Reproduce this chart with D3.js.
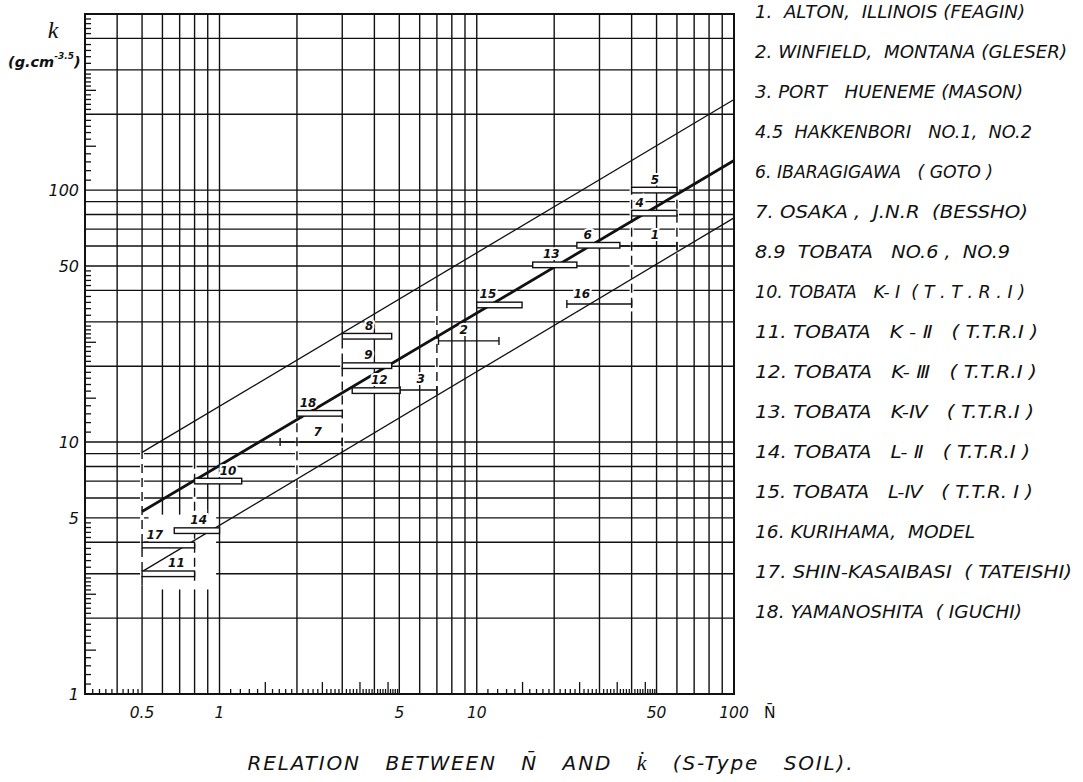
<!DOCTYPE html>
<html><head><meta charset="utf-8">
<script src="https://cdn.jsdelivr.net/npm/d3@7"></script>
<style>body{margin:0;background:#fff}svg{display:block}</style>
</head><body>
<svg id="c" width="1083" height="782"></svg>
<script>
// ---------------- data ----------------
const siteIds   = ["1","2","3","4","5","6","7","8","9","10","11","12","13","14","15","16","17","18"];
const markType  = ["range","range","range","box","box","box","range","box","box","box","box","box","box","box","box","range","box","box"];
const nLow      = [30, 7.1, 5.03, 40, 40, 24.5, 1.72, 3, 3, 0.8, 0.5, 3.28, 16.5, 0.667, 10, 22.4, 0.5, 2];
const nHigh     = [60, 12.2, 7, 60, 60, 36, 3, 4.67, 4.67, 1.22, 0.8, 5.03, 24.5, 1.0, 15, 40, 0.8, 3];
const kValue    = [60, 25.2, 16.1, 81, 100, 60.4, 10, 26.3, 20.1, 7, 3, 16, 50.5, 4.45, 35, 35.3, 3.9, 13];
const labelAtN  = [49.3, 8.9, 6.05, 43, 49.3, 27, 2.41, 3.82, 3.79, 1.08, 0.68, 4.18, 19.5, 0.83, 11.05, 25.6, 0.56, 2.21];

// reference lines (two end points each)
const lineN      = [0.5, 100];
const kUpperLine = [9.1, 229];
const kMainLine  = [5.3, 131];
const kLowerLine = [3.06, 77.6];

// grid and tick values
const gridN = [0.4,0.5,0.6,0.7,0.8,0.9,1,2,3,4,5,6,7,8,9,10,20,30,40,50,60,70,80,90];
const gridK = [2,3,4,5,6,7,8,9,10,20,30,40,50,60,70,80,90,100,200,300,400];
const xTickLabels = [0.5, 1, 5, 10, 50, 100];
const xTickText   = ["0.5", "1", "5", "10", "50", "100"];
const yTickLabels = [1, 5, 10, 50, 100];
const yTickText   = ["1", "5", "10", "50", "100"];

// dashed sections of grid lines (N, from k, to k)
const dashN  = [0.5, 0.8, 2, 3, 7, 40, 60];
const dashK0 = [2.7, 2.7, 6.5, 9.5, 15.5, 33, 56];
const dashK1 = [9.3, 8.5, 13.5, 29, 36, 104, 104];

const legendText = [
  "1.  ALTON,  ILLINOIS (FEAGIN)",
  "2. WINFIELD,  MONTANA (GLESER)",
  "3. PORT   HUENEME (MASON)",
  "4.5  HAKKENBORI   NO.1,  NO.2",
  "6. IBARAGIGAWA   ( GOTO )",
  "7. OSAKA ,  J.N.R  (BESSHO)",
  "8.9  TOBATA   NO.6 ,  NO.9",
  "10. TOBATA   K- I  ( T . T . R . I )",
  "11. TOBATA   K - Ⅱ   ( T.T.R.I )",
  "12. TOBATA   K- Ⅲ   ( T.T.R.I )",
  "13. TOBATA   K-Ⅳ   ( T.T.R.I )",
  "14. TOBATA   L- Ⅱ   ( T.T.R.I )",
  "15. TOBATA   L-Ⅳ   ( T.T.R. I )",
  "16. KURIHAMA,  MODEL",
  "17. SHIN-KASAIBASI  ( TATEISHI)",
  "18. YAMANOSHITA  ( IGUCHI)"
];
const legendRight = [1025, 1067, 1023, 1032, 993, 1028, 1010, 1025, 1038, 1037, 1034, 1030, 1033, 975, 1072, 1022];

// ---------------- drawing ----------------
const svg = d3.select("#c");
const x = d3.scaleLog().domain([0.3, 100]).range([85, 734]);
const y = d3.scaleLog().domain([1, 500]).range([694, 14]);
const ink = "#111";
const italicFont = "'DejaVu Sans', sans-serif";

const plot = svg.append("g");

// grid lines
plot.append("g").selectAll("line").data(gridN).join("line")
  .attr("x1", d => x(d)).attr("x2", d => x(d))
  .attr("y1", y(500)).attr("y2", y(1))
  .attr("stroke", ink).attr("stroke-width", 1.4);
plot.append("g").selectAll("line").data(gridK).join("line")
  .attr("x1", x(0.3)).attr("x2", x(100))
  .attr("y1", d => y(d)).attr("y2", d => y(d))
  .attr("stroke", ink).attr("stroke-width", 1.4);

// cleared region around the small-N bars
plot.append("rect")
  .attr("x", x(0.53)).attr("y", y(5.15))
  .attr("width", x(0.97) - x(0.53)).attr("height", y(2.6) - y(5.15))
  .attr("fill", "#fff");

// dashed grid sections
const dashG = plot.append("g");
dashN.forEach((n, i) => {
  dashG.append("line").attr("x1", x(n)).attr("x2", x(n))
    .attr("y1", y(dashK1[i])).attr("y2", y(dashK0[i]))
    .attr("stroke", "#fff").attr("stroke-width", 4);
  dashG.append("line").attr("x1", x(n)).attr("x2", x(n))
    .attr("y1", y(dashK1[i])).attr("y2", y(dashK0[i]))
    .attr("stroke", ink).attr("stroke-width", 1.4).attr("stroke-dasharray", "9,5");
});

// minor ticks (bottom and left), pointing into the plot
function rangeTicks(a, b, s) { return d3.range(a + s, b - s / 2, s).map(v => +v.toFixed(3)); }
const xShort = [].concat(rangeTicks(0.3, 0.4, 0.02), rangeTicks(0.4, 0.5, 0.02),
  rangeTicks(1, 5, 0.1).filter(v => ![2,3,4,1.5,2.5,3.5,4.5].includes(v)),
  rangeTicks(10, 50, 1).filter(v => ![20,30,40,15,25,35,45].includes(v)));
const xLong = [1.5, 2.5, 3.5, 4.5, 15, 25, 35, 45];
const yShort = [].concat(rangeTicks(1, 3, 0.1).filter(v => ![2,1.5,2.5].includes(v)),
  rangeTicks(3, 5, 0.2).filter(v => v !== 4),
  rangeTicks(10, 30, 1).filter(v => ![20,15,25].includes(v)),
  rangeTicks(30, 50, 2).filter(v => v !== 40),
  rangeTicks(100, 300, 10).filter(v => ![200,150,250].includes(v)),
  rangeTicks(300, 500, 20).filter(v => v !== 400));
const yLong = [1.5, 2.5, 15, 25, 150, 250];

function styleAxis(sel) {
  sel.select(".domain").remove();
  sel.selectAll("line").attr("stroke", ink).attr("stroke-width", 1.3);
  sel.selectAll("text").remove();
}
plot.append("g").attr("transform", `translate(0,${y(1)})`)
  .call(d3.axisBottom(x).tickValues(xShort).tickSize(-5).tickFormat("")).call(styleAxis);
plot.append("g").attr("transform", `translate(0,${y(1)})`)
  .call(d3.axisBottom(x).tickValues(xLong).tickSize(-12).tickFormat("")).call(styleAxis);
plot.append("g").attr("transform", `translate(${x(0.3)},0)`)
  .call(d3.axisLeft(y).tickValues(yShort).tickSize(-6).tickFormat("")).call(styleAxis);
plot.append("g").attr("transform", `translate(${x(0.3)},0)`)
  .call(d3.axisLeft(y).tickValues(yLong).tickSize(-11).tickFormat("")).call(styleAxis);

// frame
plot.append("rect").attr("x", x(0.3)).attr("y", y(500))
  .attr("width", x(100) - x(0.3)).attr("height", y(1) - y(500))
  .attr("fill", "none").attr("stroke", ink).attr("stroke-width", 2);

// reference lines
const lineGen = d3.line().x(d => x(d[0])).y(d => y(d[1]));
[[kUpperLine, 1.3], [kLowerLine, 1.3], [kMainLine, 2.8]].forEach(([ks, w]) => {
  plot.append("path").datum(lineN.map((n, i) => [n, ks[i]]))
    .attr("d", lineGen).attr("fill", "none").attr("stroke", ink).attr("stroke-width", w);
});

// data marks
const idx = d3.range(siteIds.length);
const ranges = idx.filter(i => markType[i] === "range");
const boxes = idx.filter(i => markType[i] === "box");
const mg = plot.append("g");
ranges.forEach(i => {
  const yy = y(kValue[i]);
  mg.append("line").attr("x1", x(nLow[i])).attr("x2", x(nHigh[i]))
    .attr("y1", yy).attr("y2", yy).attr("stroke", ink).attr("stroke-width", 1.4);
  [nLow[i], nHigh[i]].forEach(n => mg.append("line")
    .attr("x1", x(n)).attr("x2", x(n)).attr("y1", yy - 4).attr("y2", yy + 4)
    .attr("stroke", ink).attr("stroke-width", 1.4));
});
mg.selectAll("rect.box").data(boxes).join("rect").attr("class", "box")
  .attr("x", i => x(nLow[i])).attr("y", i => y(kValue[i]) - 2.8)
  .attr("width", i => x(nHigh[i]) - x(nLow[i])).attr("height", 5.6)
  .attr("fill", "#fff").attr("stroke", ink).attr("stroke-width", 1.4);

// labels of marks
mg.selectAll("text").data(idx).join("text")
  .attr("x", i => x(labelAtN[i])).attr("y", i => y(kValue[i]) - 10)
  .attr("text-anchor", "middle").attr("dominant-baseline", "middle")
  .attr("font-family", italicFont).attr("font-style", "italic").attr("font-weight", "bold")
  .attr("font-size", 12).attr("fill", ink)
  .attr("stroke", "#fff").attr("stroke-width", 4).attr("paint-order", "stroke")
  .text(i => siteIds[i]);

// axis labels
svg.append("g").selectAll("text").data(xTickLabels).join("text")
  .attr("x", d => x(d)).attr("y", 718)
  .attr("text-anchor", "middle").attr("font-family", italicFont).attr("font-style", "italic")
  .attr("font-size", 15.5).attr("fill", ink)
  .text((d, i) => xTickText[i]);
svg.append("text").attr("x", x(100) + 30).attr("y", 718)
  .attr("font-family", italicFont).attr("font-size", 15.5).attr("fill", ink).text("N\u0304");
svg.append("g").selectAll("text").data(yTickLabels).join("text")
  .attr("x", 79).attr("y", d => y(d)).attr("dy", "0.36em")
  .attr("text-anchor", "end").attr("font-family", italicFont).attr("font-style", "italic")
  .attr("font-size", 16).attr("fill", ink)
  .text((d, i) => yTickText[i]);

// y unit label
svg.append("text").attr("x", 53).attr("y", 38).attr("text-anchor", "middle")
  .attr("font-family", "'Liberation Serif', serif").attr("font-style", "italic")
  .attr("font-size", 24).attr("fill", ink).text("k");
const unit = svg.append("text").attr("x", 8).attr("y", 67)
  .attr("font-family", italicFont).attr("font-style", "italic").attr("font-weight", "bold")
  .attr("font-size", 14.5).attr("fill", ink);
unit.append("tspan").text("(g.cm");
unit.append("tspan").attr("font-size", 9).attr("dy", -8).text("-3.5");
unit.append("tspan").attr("dy", 8).text(")");

// legend
svg.append("g").selectAll("text").data(legendText).join("text")
  .attr("x", 755).attr("y", (d, i) => 12 + 40 * i).attr("dy", "0.36em")
  .attr("xml:space", "preserve")
  .attr("font-family", italicFont).attr("font-style", "italic")
  .attr("font-size", 17).attr("fill", ink)
  .attr("textLength", (d, i) => legendRight[i] - 755).attr("lengthAdjust", "spacingAndGlyphs")
  .text(d => d);

// title
const title = svg.append("text").attr("x", 550).attr("y", 770).attr("text-anchor", "middle")
  .attr("xml:space", "preserve")
  .attr("font-family", italicFont).attr("font-style", "italic").attr("font-size", 20).attr("fill", ink)
  .attr("textLength", 605).attr("lengthAdjust", "spacing");
title.append("tspan").text("RELATION   BETWEEN   N\u0304   AND   ");
title.append("tspan").attr("font-family", "'Liberation Serif', serif").attr("font-style", "italic").attr("font-size", 22).text("k\u0307");
title.append("tspan").text("   (S-Type   SOIL).");
</script>
</body></html>
